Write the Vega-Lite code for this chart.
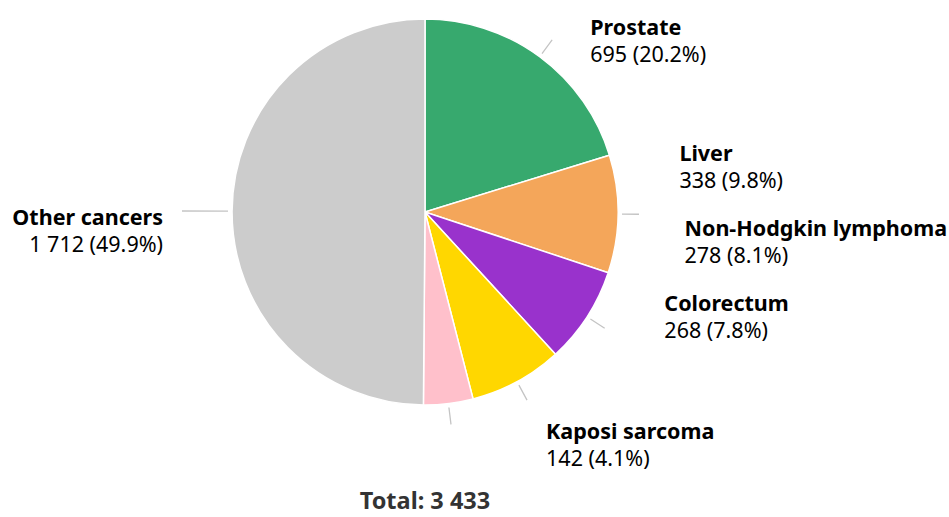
{
  "$schema": "https://vega.github.io/schema/vega-lite/v6.json",
  "width": 850,
  "height": 424,
  "autosize": "none",
  "padding": {"left": 0, "top": 0, "right": 99, "bottom": 93},
  "background": "white",
  "config": {"view": {"stroke": null}, "font": "Noto Sans"},
  "title": {"text": "Total: 3 433", "orient": "bottom", "anchor": "middle", "frame": "group", "baseline": "alphabetic", "offset": 38, "font": "Noto Sans", "fontSize": 23.5, "fontWeight": "bold", "color": "#333333"},
  "data": {"values": [
    {"name": "Prostate", "count": 695, "rank": 1, "label": "695 (20.2%)"},
    {"name": "Liver", "count": 338, "rank": 2, "label": "338 (9.8%)"},
    {"name": "Non-Hodgkin lymphoma", "count": 278, "rank": 3, "label": "278 (8.1%)"},
    {"name": "Colorectum", "count": 268, "rank": 4, "label": "268 (7.8%)"},
    {"name": "Kaposi sarcoma", "count": 142, "rank": 5, "label": "142 (4.1%)"},
    {"name": "Other cancers", "count": 1712, "rank": 6, "label": "1 712 (49.9%)"}
  ]},
  "resolve": {"scale": {"theta": "independent", "radius": "independent"}},
  "layer": [
    {
      "mark": {"type": "arc", "outerRadius": 193, "stroke": "white", "strokeWidth": 1.5},
      "encoding": {
        "theta": {"field": "count", "type": "quantitative", "stack": true},
        "order": {"field": "rank", "type": "quantitative"},
        "color": {"field": "name", "type": "nominal", "legend": null,
          "scale": {"domain": ["Prostate", "Liver", "Non-Hodgkin lymphoma", "Colorectum", "Kaposi sarcoma", "Other cancers"],
                    "range": ["#37a96e", "#f4a65a", "#9932cc", "#ffd700", "#ffc0cb", "#cccccc"]}}
      }
    },
    {
      "mark": {"type": "arc", "innerRadius": 197, "outerRadius": 214, "padAngle": 3, "filled": false, "stroke": "#c4c4c4", "strokeWidth": 1.3},
      "encoding": {
        "theta": {"field": "count", "type": "quantitative", "stack": true},
        "order": {"field": "rank", "type": "quantitative"},
        "strokeOpacity": {"condition": {"test": "datum.name === 'Other cancers'", "value": 0}, "value": 1}
      }
    },
    {
      "mark": {"type": "arc", "innerRadius": 197, "outerRadius": 243, "padAngle": 3, "filled": false, "stroke": "#c4c4c4", "strokeWidth": 1.3},
      "encoding": {
        "theta": {"field": "count", "type": "quantitative", "stack": true},
        "order": {"field": "rank", "type": "quantitative"},
        "strokeOpacity": {"condition": {"test": "datum.name === 'Other cancers'", "value": 1}, "value": 0}
      }
    },
    {
      "mark": {"type": "text", "align": "left", "baseline": "middle", "dy": -13.5, "font": "Noto Sans", "fontSize": 21.5, "fontWeight": "bold", "color": "#000000"},
      "encoding": {
        "theta": {"field": "count", "type": "quantitative", "stack": true, "scale": {"domain": [0, 695, 1033, 1311, 1579, 1721], "range": [0.1745, 1.3683, 1.4382, 1.9478, 2.0316, 3.2987], "zero": false, "nice": false}},
        "radius": {"field": "count", "type": "quantitative", "scale": {"domain": [142, 268, 338, 695], "range": [264, 262, 258, 237], "zero": false, "nice": false}},
        "order": {"field": "rank", "type": "quantitative"},
        "text": {"condition": {"test": "datum.name === 'Other cancers'", "value": ""}, "field": "name", "type": "nominal"}
      }
    },
    {
      "mark": {"type": "text", "align": "left", "baseline": "middle", "dy": 13.5, "font": "Noto Sans", "fontSize": 21.5, "color": "#000000"},
      "encoding": {
        "theta": {"field": "count", "type": "quantitative", "stack": true, "scale": {"domain": [0, 695, 1033, 1311, 1579, 1721], "range": [0.1745, 1.3683, 1.4382, 1.9478, 2.0316, 3.2987], "zero": false, "nice": false}},
        "radius": {"field": "count", "type": "quantitative", "scale": {"domain": [142, 268, 338, 695], "range": [264, 262, 258, 237], "zero": false, "nice": false}},
        "order": {"field": "rank", "type": "quantitative"},
        "text": {"condition": {"test": "datum.name === 'Other cancers'", "value": ""}, "field": "label", "type": "nominal"}
      }
    },
    {
      "mark": {"type": "text", "align": "right", "baseline": "middle", "dy": 8, "font": "Noto Sans", "fontSize": 21.5, "fontWeight": "bold", "color": "#000000"},
      "encoding": {
        "theta": {"field": "count", "type": "quantitative", "stack": true},
        "radius": {"field": "count", "type": "quantitative", "scale": {"domain": [142, 695, 1712], "range": [0, 0, 262], "zero": false, "nice": false}},
        "order": {"field": "rank", "type": "quantitative"},
        "text": {"condition": {"test": "datum.name !== 'Other cancers'", "value": ""}, "field": "name", "type": "nominal"}
      }
    },
    {
      "mark": {"type": "text", "align": "right", "baseline": "middle", "dy": 35, "font": "Noto Sans", "fontSize": 21.5, "color": "#000000"},
      "encoding": {
        "theta": {"field": "count", "type": "quantitative", "stack": true},
        "radius": {"field": "count", "type": "quantitative", "scale": {"domain": [142, 695, 1712], "range": [0, 0, 262], "zero": false, "nice": false}},
        "order": {"field": "rank", "type": "quantitative"},
        "text": {"condition": {"test": "datum.name !== 'Other cancers'", "value": ""}, "field": "label", "type": "nominal"}
      }
    }
  ]
}
